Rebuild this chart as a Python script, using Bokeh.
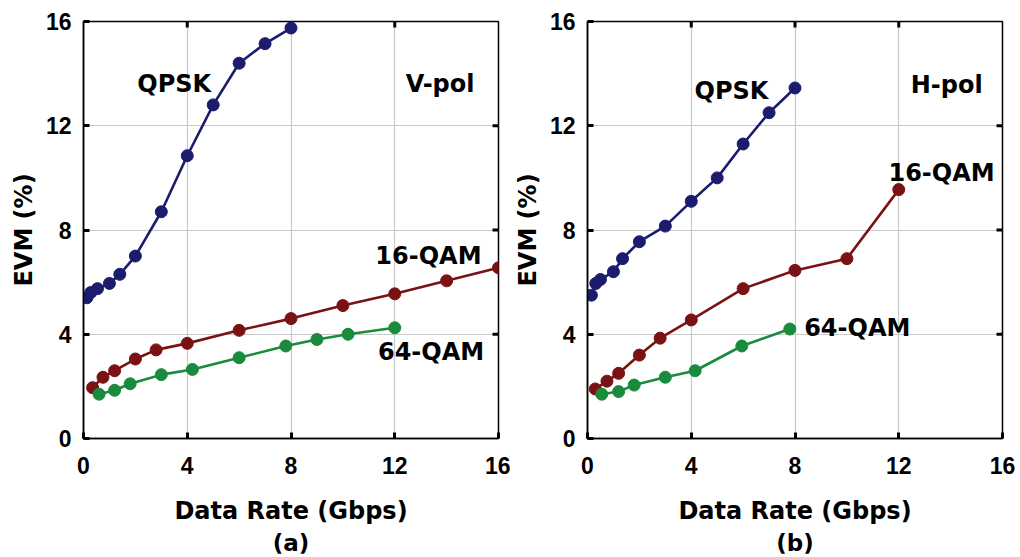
from bokeh.plotting import figure
from bokeh.layouts import row
from bokeh.models import FixedTicker, Range1d, Title, ColumnDataSource
from bokeh.core.properties import value
from bokeh.embed import file_html
from bokeh.resources import INLINE

# ---- data (Gbps, EVM %) ----
qpsk_v_x = [0.13, 0.28, 0.54, 1.0, 1.4, 2.0, 3.0, 4.0, 5.0, 6.0, 7.0, 8.0]
qpsk_v_y = [5.4, 5.6, 5.75, 5.95, 6.3, 7.0, 8.7, 10.85, 12.8, 14.4, 15.15, 15.75]
qam16_v_x = [0.35, 0.75, 1.2, 2.0, 2.8, 4.0, 6.0, 8.0, 10.0, 12.0, 14.0, 16.0]
qam16_v_y = [1.95, 2.35, 2.6, 3.05, 3.4, 3.65, 4.15, 4.6, 5.1, 5.55, 6.05, 6.55]
qam64_v_x = [0.6, 1.2, 1.8, 3.0, 4.2, 6.0, 7.8, 9.0, 10.2, 12.0]
qam64_v_y = [1.7, 1.85, 2.1, 2.45, 2.65, 3.1, 3.55, 3.8, 4.0, 4.25]

qpsk_h_x = [0.15, 0.32, 0.5, 1.0, 1.35, 2.0, 3.0, 4.0, 5.0, 6.0, 7.0, 8.0]
qpsk_h_y = [5.5, 5.95, 6.1, 6.4, 6.9, 7.55, 8.15, 9.1, 10.0, 11.3, 12.5, 13.45]
qam16_h_x = [0.3, 0.75, 1.2, 2.0, 2.8, 4.0, 6.0, 8.0, 10.0, 12.0]
qam16_h_y = [1.9, 2.2, 2.5, 3.2, 3.85, 4.55, 5.75, 6.45, 6.9, 9.55]
qam64_h_x = [0.55, 1.2, 1.8, 3.0, 4.15, 5.95, 7.8]
qam64_h_y = [1.7, 1.8, 2.05, 2.35, 2.6, 3.55, 4.2]

ticks = [0, 4, 8, 12, 16]
inner_ticks = [4, 8, 12]
axis_min, axis_max = 0, 16
series_names = ["QPSK", "16-QAM", "64-QAM"]
colors = ["#1c1c6e", "#7a1214", "#1a8a3c"]

# label text/positions
labels_v = (["QPSK", "V-pol", "16-QAM", "64-QAM"], [3.5, 13.75, 13.3, 13.4], [13.6, 13.6, 7.0, 3.3])
labels_h = (["QPSK", "H-pol", "16-QAM", "64-QAM"], [5.55, 13.85, 13.65, 10.4], [13.35, 13.55, 10.2, 4.25])

LABEL_FONT = "DejaVu Sans"
TICK_FONT = "Liberation Sans"
TICK_LEN = 0.23   # inner tick length in data units (~6 px)


def make_panel(series, labels, tag, border_left, border_right):
    p = figure(frame_width=415, frame_height=417,
               min_border_left=border_left, min_border_right=border_right,
               min_border_top=21, min_border_bottom=119,
               x_range=Range1d(axis_min, axis_max), y_range=Range1d(axis_min, axis_max),
               output_backend="svg", toolbar_location=None,
               background_fill_color="white", border_fill_color="white")
    p.outline_line_color = "black"
    p.outline_line_width = 1.5

    for ax in (p.xaxis[0], p.yaxis[0]):
        ax.ticker = FixedTicker(ticks=ticks)
        ax.major_tick_in = 6
        ax.major_tick_out = 0
        ax.major_tick_line_width = 3
        ax.minor_tick_line_color = None
        ax.axis_line_width = 1.5
        ax.major_label_text_font = TICK_FONT
        ax.major_label_text_font_style = "bold"
        ax.major_label_text_font_size = "23px"
        ax.major_label_text_color = "black"
        ax.axis_label_text_font = LABEL_FONT
        ax.axis_label_text_font_style = "bold"
        ax.axis_label_text_font_size = "24px"
        ax.axis_label_text_color = "black"

    p.xaxis.axis_label = "Data Rate (Gbps)"
    p.yaxis.axis_label = "EVM (%)"
    p.xaxis.major_label_standoff = 18
    p.yaxis.major_label_standoff = 12
    p.xaxis.axis_label_standoff = 20
    p.yaxis.axis_label_standoff = 5

    # panel tag below the axis label
    t = Title(text=tag, align="center", text_font=LABEL_FONT,
              text_font_style="bold", text_font_size="23px", text_color="black",
              standoff=0)
    p.add_layout(t, "below")

    # mirrored inner ticks on top and right edges
    n = len(inner_ticks)
    p.segment(x0=inner_ticks, x1=inner_ticks, y0=[axis_max] * n, y1=[axis_max - TICK_LEN] * n,
              line_color="black", line_width=3)
    p.segment(x0=[axis_max] * n, x1=[axis_max - TICK_LEN] * n, y0=inner_ticks, y1=inner_ticks,
              line_color="black", line_width=3)

    p.xgrid.grid_line_color = "#c8c8c8"
    p.ygrid.grid_line_color = "#c8c8c8"
    p.xgrid.grid_line_width = 1.2
    p.ygrid.grid_line_width = 1.2
    p.xgrid.ticker = FixedTicker(ticks=inner_ticks)
    p.ygrid.ticker = FixedTicker(ticks=inner_ticks)

    for (xs, ys), c in zip(series, colors):
        src = ColumnDataSource(dict(x=xs, y=ys))
        p.line("x", "y", source=src, line_color=c, line_width=2.6)
        p.scatter("x", "y", source=src, size=12, fill_color=c, line_color=c)

    txt, lx, ly = labels
    p.text(x=lx, y=ly, text=txt, text_font=value(LABEL_FONT), text_font_style="bold",
           text_font_size="24px", text_color="black", text_align="center",
           text_baseline="middle")
    return p


p1 = make_panel([(qpsk_v_x, qpsk_v_y), (qam16_v_x, qam16_v_y), (qam64_v_x, qam64_v_y)],
                labels_v, "(a)", 83, 12)
p2 = make_panel([(qpsk_h_x, qpsk_h_y), (qam16_h_x, qam16_h_y), (qam64_h_x, qam64_h_y)],
                labels_h, "(b)", 77, 18)

layout = row(p1, p2, spacing=0)
open("out.html", "w").write(file_html(layout, INLINE))
